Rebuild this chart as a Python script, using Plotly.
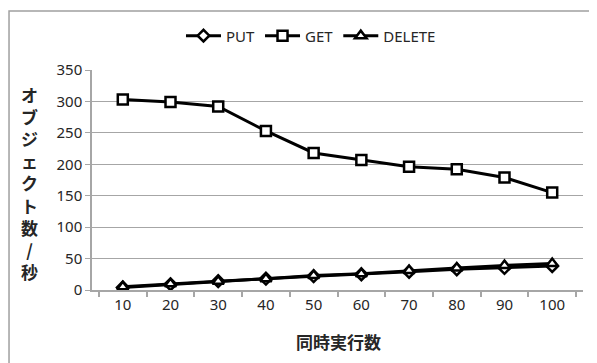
import plotly.graph_objects as go

categories = ["10", "20", "30", "40", "50", "60", "70", "80", "90", "100"]
put_vals = [4, 9, 14, 18, 22, 25, 29, 33, 35, 38]
get_vals = [303, 299, 292, 253, 218, 207, 196, 192, 179, 155]
delete_vals = [5, 10, 14, 18, 23, 26, 31, 35, 39, 42]
series_names = ["PUT", "GET", "DELETE"]
y_title = "オブジェクト数/秒"
x_title = "同時実行数"

symbols = ["diamond", "square", "triangle-up"]
sizes = [9, 10, 10]
fig = go.Figure()
for name, vals, sym, sz in zip(series_names, [put_vals, get_vals, delete_vals], symbols, sizes):
    fig.add_trace(go.Scatter(
        x=categories, y=vals, name=name, mode="lines+markers",
        line=dict(color="#000000", width=3),
        marker=dict(symbol=sym, size=sz, color="#ffffff",
                    line=dict(color="#000000", width=2.5)),
    ))

grid = "#a6a6a6"
font = "Noto Sans, sans-serif"
cjk = "Noto Sans CJK JP, sans-serif"

fig.update_layout(
    width=589, height=355,
    margin=dict(l=84, r=14, t=62, b=73, autoexpand=False),
    paper_bgcolor="#ffffff", plot_bgcolor="#ffffff",
    font=dict(family=font, size=15, color="#262626"),
    showlegend=True,
    legend=dict(orientation="h", x=0.446, xanchor="center", y=1.155, yanchor="middle",
                font=dict(family=font, size=15, color="#262626"), itemwidth=35,
                tracegroupgap=0, bgcolor="rgba(0,0,0,0)"),
    xaxis=dict(type="category", showgrid=False, showline=True, linecolor=grid, linewidth=1.5,
               ticks="outside", tickson="boundaries", ticklen=5, tickcolor=grid, tickwidth=1.5,
               tickfont=dict(family=font, size=15, color="#262626"), zeroline=False),
    yaxis=dict(range=[0, 350], dtick=50, showgrid=True, gridcolor=grid, gridwidth=1.2,
               showline=True, linecolor=grid, linewidth=1.5, ticks="outside", ticklen=5,
               tickcolor=grid, tickwidth=1.2, zeroline=False,
               tickfont=dict(family=font, size=15, color="#262626")),
    shapes=[dict(type="rect", xref="paper", yref="paper", x0=-0.169, x1=1.3, y0=-0.6, y1=1.268,
                 line=dict(color="#a0a0a0", width=1.5), fillcolor="rgba(0,0,0,0)", layer="below")],
    annotations=[
        dict(text=x_title, xref="paper", yref="paper", x=0.503, y=-0.236,
             showarrow=False, xanchor="center", yanchor="middle",
             font=dict(family=cjk, size=17, color="#262626", weight="bold")),
        dict(text="<br>".join(list(y_title)), xref="paper", yref="paper", x=-0.128, y=0.486,
             showarrow=False, xanchor="center", yanchor="middle",
             font=dict(family=cjk, size=17, color="#262626", weight="bold")),
    ],
)

fig.write_html("out.html")
